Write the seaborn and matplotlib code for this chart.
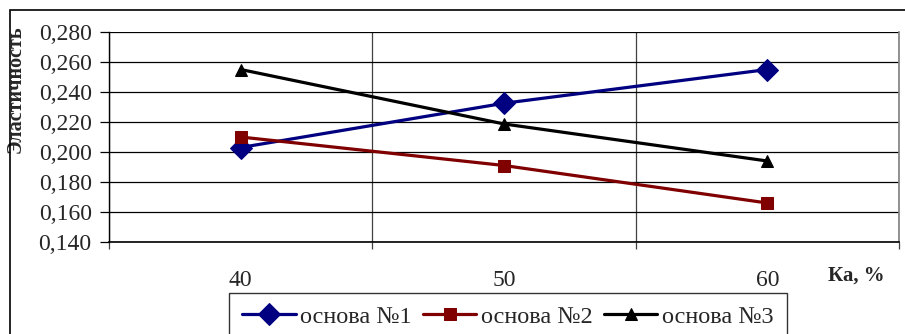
import matplotlib
matplotlib.use("Agg")
import matplotlib.pyplot as plt
import seaborn as sns
import pandas as pd
from matplotlib.patches import Rectangle
from matplotlib.ticker import FixedLocator, FuncFormatter

categories = ["40", "50", "60"]
osnova1 = [0.203, 0.2325, 0.255]
osnova2 = [0.210, 0.191, 0.166]
osnova3 = [0.255, 0.2187, 0.194]
series_names = ["основа №1", "основа №2", "основа №3"]
y_ticks = [0.140, 0.160, 0.180, 0.200, 0.220, 0.240, 0.260, 0.280]

sns.set_style("white")
plt.rcParams['font.family'] = ['Liberation Serif', 'DejaVu Serif']

fig = plt.figure(figsize=(9.05, 3.34), dpi=100)
W, H = 905, 334
ax = fig.add_axes([109 / W, 1 - 242 / H, (899 - 109) / W, (242 - 32) / H])

df = pd.DataFrame({
    "Ka": categories * 3,
    "val": osnova1 + osnova2 + osnova3,
    "series": [series_names[0]] * 3 + [series_names[1]] * 3 + [series_names[2]] * 3,
})
df["pos"] = [0, 1, 2] * 3

colors = ["#000080", "#800000", "#000000"]
markers = ["D", "s", "^"]
msizes = [11, 8, 9]
for name, c, m, ms in zip(series_names, colors, markers, msizes):
    sub = df[df["series"] == name]
    sns.lineplot(data=sub, x="pos", y="val", ax=ax, color=c, marker=m,
                 markersize=ms, markeredgecolor=c, linewidth=2.3, label=name,
                 legend=False)

ax.set_xlim(-0.5, 2.5)
ax.set_ylim(0.140, 0.280)
ax.yaxis.set_major_locator(FixedLocator(y_ticks))
ax.yaxis.set_major_formatter(FuncFormatter(lambda v, p: f"{v:.3f}".replace(".", ",")))
ax.set_xticks([0, 1, 2])
ax.set_xticklabels(categories)
ax.set_xticks([-0.5, 0.5, 1.5, 2.5], minor=True)

ax.grid(True, axis="y", color="black", linewidth=0.9)
ax.grid(True, axis="x", which="minor", color="#404040", linewidth=0.9)
ax.grid(False, axis="x", which="major")
ax.set_axisbelow(True)

ax.spines["top"].set_visible(False)
ax.spines["right"].set_color("#808080")
ax.spines["right"].set_linewidth(1.2)
ax.spines["left"].set_color("black")
ax.spines["bottom"].set_color("black")
ax.spines["left"].set_linewidth(1.0)
ax.spines["bottom"].set_linewidth(1.2)

ax.tick_params(axis="y", which="major", direction="out", length=6.5, width=0.9,
               color="black", labelsize=17, pad=6, left=True)
ax.tick_params(axis="x", which="major", length=0, labelsize=17, pad=20)
ax.tick_params(axis="x", which="minor", direction="out", length=5, width=0.9,
               color="#404040", bottom=True)

ax.set_xlabel("")
ax.set_ylabel("Эластичность", fontsize=14.5, fontweight="bold")
ax.yaxis.set_label_coords(-0.105, 0.73)
ax.text(0.9457, -0.162, "Ка, %", transform=ax.transAxes, fontsize=15,
        fontweight="bold", ha="center", va="center")

handles, labels = ax.get_legend_handles_labels()
leg = fig.legend(handles, labels, loc="upper center", ncol=3,
                 bbox_to_anchor=(508 / W, 1 - 293 / H), frameon=True,
                 fancybox=False, edgecolor="black", fontsize=17.5,
                 handlelength=2.2, handletextpad=0.2, columnspacing=0.45,
                 borderpad=0.52, borderaxespad=0)
leg.get_frame().set_linewidth(1.0)

fig.patches.append(Rectangle((10 / W, -0.2), 1.2, 1 - 10 / H + 0.2,
                             transform=fig.transFigure, fill=False,
                             edgecolor="black", linewidth=1.2))

fig.savefig("out.png", dpi=100)
